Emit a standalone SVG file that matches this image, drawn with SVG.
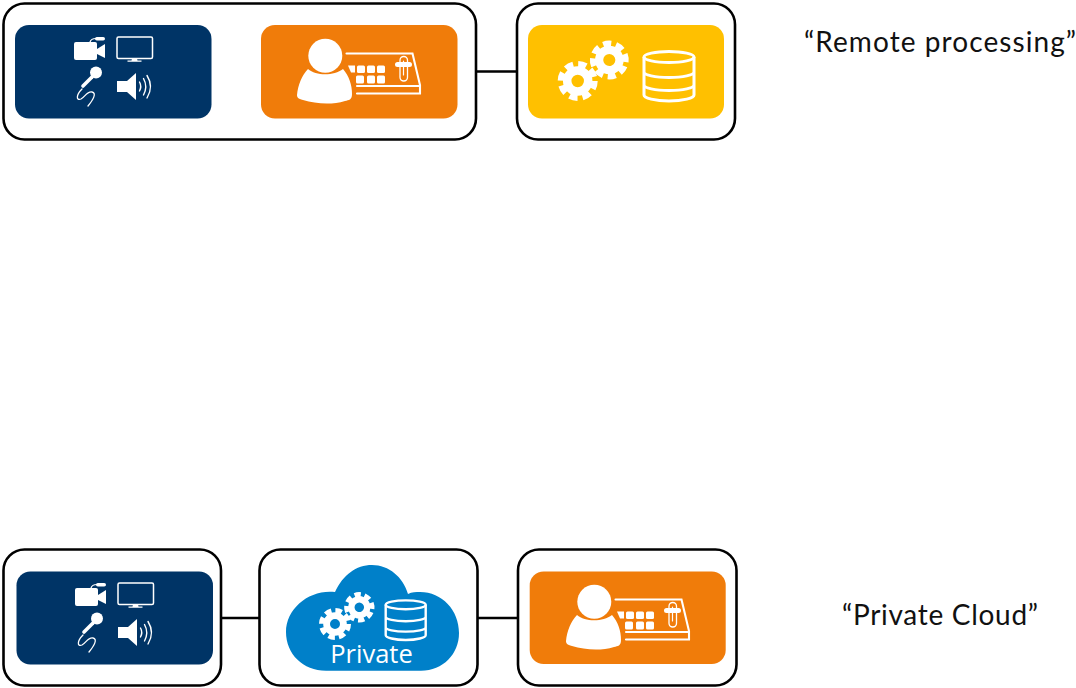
<svg xmlns="http://www.w3.org/2000/svg" width="1076" height="688" viewBox="0 0 1076 688">
<style>
.box{fill:#fff;stroke:#000;stroke-width:2.6}
.conn{stroke:#000;stroke-width:2.4;fill:none}
.w{fill:#fff}
.l{fill:none;stroke:#fff;stroke-linecap:round}
.cap{font-family:"Lato","Liberation Sans",sans-serif;font-size:28px;fill:#111}
.pri{font-family:"Open Sans","Liberation Sans",sans-serif;font-size:25.500px;fill:#fff}
</style>
<defs>
<g id="media">
<rect class="w" x="74" y="42" width="23" height="18" rx="2"/>
<polygon class="w" points="97,49 105,44 105,58 97,54"/>
<path class="l" stroke-width="1.200" d="M90 42Q91 38.500 96 38.500"/>
<rect class="w" x="95" y="37" width="10" height="3.600" rx="1.800"/>
<rect x="117" y="37" width="35.500" height="21.500" rx="1.500" fill="none" stroke="#fff" stroke-width="1.500"/>
<path class="w" d="M132 58.500h5l.5 2h4v1.200h-14v-1.200h4z"/>
<circle class="w" cx="96" cy="72.500" r="6"/>
<path class="l" stroke-width="3.600" d="M92 77L83 86"/>
<path class="l" stroke-width="1.300" d="M82 89C76 95 76 101 81 99C85 97 87 91 92 92C97 93 93 100 88 106"/>
<polygon class="w" points="117,81 127,81 136,73 136,100 127,92 117,92"/>
<path class="l" stroke-width="1.400" d="M139.500 82Q142 86.500 139.500 91M143.500 78.500Q148 86.500 143.500 95M147 75.500Q154 86.500 147 98"/>
</g>
<g id="operator">
<circle class="w" cx="325.300" cy="55.700" r="17"/>
<path class="w" d="M308 69C316 76 334 76 343 69C349 76 352 85 352 94C352 100 349 100 345 101C332 105 316 104 303 100C298 99 297 97 297 95C298 85 302 75 308 69Z"/>
<path class="l" stroke-width="2.100" d="M346.500 53.500H412.500L420 85V93.500H357M357 86H420"/>
<g class="w">
<path d="M348 65.500h7v7h-4z"/>
<rect x="357" y="65.500" width="8" height="7.500" rx="1.500"/><rect x="367" y="65.500" width="8" height="7.500" rx="1.500"/><rect x="377" y="65.500" width="8" height="7.500" rx="1.500"/>
<rect x="356" y="75.500" width="8" height="8" rx="1.500"/><rect x="367" y="75.500" width="8" height="8" rx="1.500"/><rect x="377" y="75.500" width="8" height="8" rx="1.500"/>
<rect x="395" y="62" width="17" height="5" rx="2.500"/>
</g>
<rect x="400" y="56.500" width="7.500" height="24.500" rx="3.700" fill="none" stroke="#fff" stroke-width="1.300"/>
<path class="l" stroke-width="1.200" d="M403.500 61V75"/>
</g>
<g id="gear">
<circle cx="0" cy="0" r="10.500" fill="none" stroke="#fff" stroke-width="8.500"/>
<circle cx="0" cy="0" r="16.500" fill="none" stroke="#fff" stroke-width="7" stroke-dasharray="8 4.960"/>
</g>
<g id="db" fill="none" stroke="#fff" stroke-width="3">
<ellipse cx="669" cy="57" rx="25" ry="5.500"/>
<path d="M644 57V95C644 98 655 101 669 101S694 98 694 95V57M644 72C644 75 655 77.500 669 77.500S694 75 694 72M644 85C644 88 655 90.500 669 90.500S694 88 694 85"/>
</g>
</defs>
<g id="connectors">
<path class="conn" d="M476 71.500H517M221 618H259.500M478 618H518"/>
</g>
<g id="remote-site-box"><rect class="box" x="3.500" y="3.500" width="472.500" height="136" rx="21"/></g>
<g id="remote-media"><rect x="15" y="25" width="196.500" height="93.500" rx="14" fill="#003466"/><use href="#media"/></g>
<g id="remote-operator"><rect x="261" y="25" width="196.500" height="93.500" rx="14" fill="#F07C0A"/><use href="#operator"/></g>
<g id="remote-processing-box"><rect class="box" x="517" y="3.500" width="218" height="136" rx="21"/>
<rect x="528" y="25" width="196" height="93.500" rx="14" fill="#FFC000"/>
<use href="#gear" x="577.700" y="81"/><use href="#gear" transform="translate(609.300 60) scale(.97) rotate(22)"/><use href="#db"/></g>
<g id="remote-caption"><text class="cap" x="804" y="52" textLength="272" lengthAdjust="spacing">“Remote processing”</text></g>
<g id="private-media"><rect class="box" x="3.500" y="549.500" width="217.500" height="136" rx="21"/>
<rect x="16.500" y="571.500" width="196.500" height="93" rx="14" fill="#003466"/><use href="#media" x="1" y="546"/></g>
<g id="private-cloud"><rect class="box" x="259.500" y="549.500" width="218" height="136" rx="21"/>
<path d="M326 670.700C303 670.700 286 654 286 632C286 608 310 589 335 592C343 575 356 565 372 565C389 565 403 577 408 594C412 592 416 592 420 592C442 592 459 610 459 633C459 654 443 670.700 421 670.700Z" fill="#0080C9"/>
<use href="#gear" transform="translate(335 624) scale(.8)"/><use href="#gear" transform="translate(359.300 607.300) scale(.76) rotate(22)"/>
<use href="#db" transform="translate(405.700 620) scale(.8) translate(-669 -76)"/>
<text class="pri" x="371.500" y="662.500" text-anchor="middle">Private</text></g>
<g id="private-operator"><rect class="box" x="518" y="549.500" width="218.500" height="136" rx="21"/>
<rect x="529.700" y="571.500" width="196" height="92.500" rx="14" fill="#F07C0A"/><use href="#operator" x="269" y="546"/></g>
<g id="private-caption"><text class="cap" x="842" y="625" textLength="196" lengthAdjust="spacing">“Private Cloud”</text></g>
</svg>
